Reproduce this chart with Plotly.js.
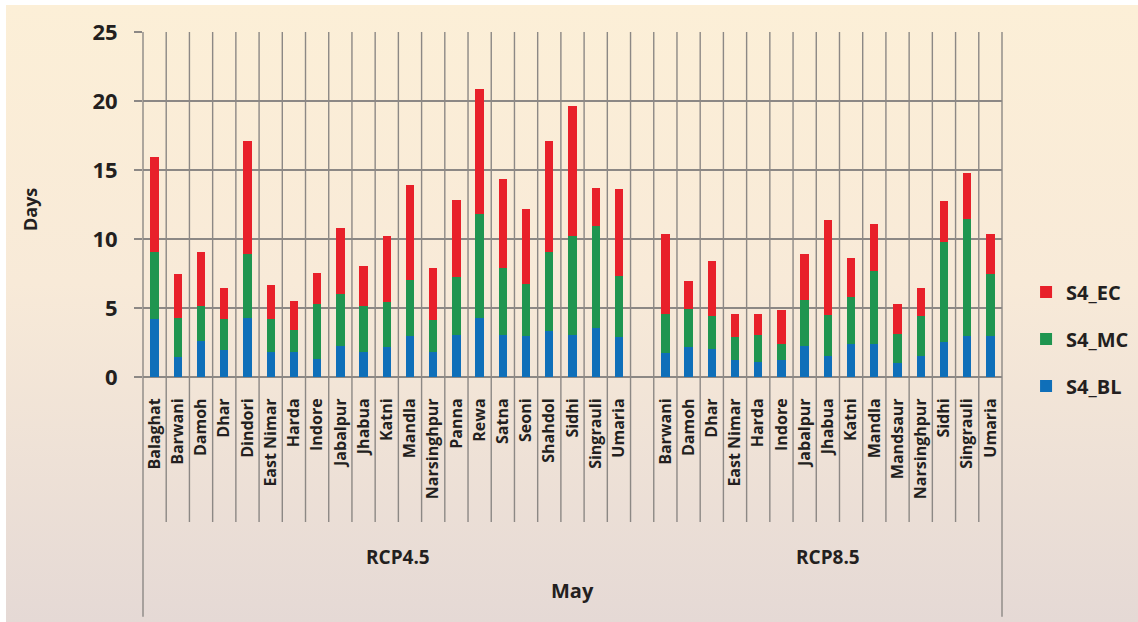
<!DOCTYPE html>
<html>
<head>
<meta charset="utf-8">
<script src="https://cdn.plot.ly/plotly-3.0.1.min.js"></script>
<style>
  html, body { margin: 0; padding: 0; background: #ffffff; }
  #bg { position: absolute; left: 6px; top: 5px; width: 1132px; height: 617px;
        background: linear-gradient(to bottom, #FCEFD7 0%, #F8EAD8 45%, #E5D9D5 100%); }
  #chart { position: absolute; left: 0; top: 0; width: 1138px; height: 622px; }
</style>
</head>
<body>
<div id="bg"></div>
<div id="chart"></div>
<script>
// ---- data ----
const groups = ["RCP4.5", "RCP8.5"];
const names45 = ["Balaghat","Barwani","Damoh","Dhar","Dindori","East Nimar","Harda","Indore","Jabalpur","Jhabua","Katni","Mandla","Narsinghpur","Panna","Rewa","Satna","Seoni","Shahdol","Sidhi","Singrauli","Umaria"];
const bl45 = [4.17,1.42,2.58,1.93,4.31,1.78,1.78,1.28,2.24,1.78,2.14,2.94,1.78,3.08,4.31,3.08,2.94,3.30,3.08,3.54,2.87];
const mc45 = [4.87,2.89,2.60,2.24,4.58,2.39,1.62,4.00,3.76,3.40,3.33,4.12,2.34,4.20,7.52,4.85,3.83,5.78,7.16,7.42,4.48];
const ec45 = [6.91,3.18,3.90,2.31,8.22,2.53,2.14,2.29,4.82,2.89,4.77,6.87,3.81,5.56,9.04,6.43,5.42,8.03,9.40,2.75,6.29];

const names85 = ["Barwani","Damoh","Dhar","East Nimar","Harda","Indore","Jabalpur","Jhabua","Katni","Mandla","Mandsaur","Narsinghpur","Sidhi","Singrauli","Umaria"];
const bl85 = [1.73,2.17,2.02,1.25,1.11,1.25,2.27,1.54,2.41,2.41,1.01,1.54,2.55,2.99,2.99];
const mc85 = [2.85,2.75,2.41,1.64,1.93,1.16,3.32,2.94,3.37,5.25,2.12,2.89,7.23,8.43,4.48];
const ec85 = [5.76,2.02,3.96,1.66,1.51,2.43,3.30,6.87,2.82,3.40,2.15,2.00,2.94,3.33,2.87];

const seriesNames = ["S4_BL","S4_MC","S4_EC"];
const seriesColors = ["#0F6FB9","#1F9550","#E8202A"];
const monthLabel = "May";
const yTitle = "Days";

// ---- positions: one blank slot between the two groups ----
const n45 = names45.length, n85 = names85.length;
const nTot = n45 + 1 + n85;
const x45 = names45.map((_, i) => i);
const x85 = names85.map((_, i) => n45 + 1 + i);
const xAll = x45.concat(x85);
const namesAll = names45.concat(names85);
const vals = [bl45.concat(bl85), mc45.concat(mc85), ec45.concat(ec85)];

const traces = vals.map((v, k) => ({
  type: "bar", x: xAll, y: v, name: seriesNames[k], legendgroup: seriesNames[k],
  legendrank: 100 - k,
  marker: { color: seriesColors[k], line: { width: 0 } }, hoverinfo: "x+y+name"
}));

const gridCol = "#8C8885";
const txtCol = "#231F20";
const fam = "Open Sans, Liberation Sans, sans-serif";

// vertical category dividers (inner ones short, outer edges long)
const shapes = [];
for (let k = 0; k <= nTot; k++) {
  const outer = (k === 0 || k === nTot);
  shapes.push({
    type: "line", layer: "below", xref: "x domain", yref: "paper",
    x0: k / nTot, x1: k / nTot, y0: 1, y1: outer ? -0.695 : -0.42,
    line: { color: gridCol, width: 1.4 }
  });
}

const annotations = [
  { text: yTitle, xref: "paper", yref: "paper", x: -0.1315, y: 0.484, textangle: -90,
    xanchor: "center", yanchor: "middle",
    showarrow: false, font: { family: fam, size: 18, color: txtCol, weight: "bold" } },
  { text: groups[0], xref: "x", yref: "paper", x: (-0.5 + n45 + 0.5) / 2, y: -0.522,
    xanchor: "center", yanchor: "middle",
    showarrow: false, font: { family: fam, size: 19, color: txtCol, weight: "bold" } },
  { text: groups[1], xref: "x", yref: "paper", x: (n45 + 0.5 + nTot - 0.5) / 2, y: -0.522,
    xanchor: "center", yanchor: "middle",
    showarrow: false, font: { family: fam, size: 19, color: txtCol, weight: "bold" } },
  { text: monthLabel, xref: "paper", yref: "paper", x: 0.5, y: -0.62,
    xanchor: "center", yanchor: "middle",
    showarrow: false, font: { family: fam, size: 20, color: txtCol, weight: "bold" } }
];

const layout = {
  width: 1138, height: 622,
  margin: { l: 143, r: 136, t: 32, b: 245, autoexpand: false },
  paper_bgcolor: "rgba(0,0,0,0)", plot_bgcolor: "rgba(0,0,0,0)",
  barmode: "stack", bargap: 0.64,
  showlegend: true,
  legend: {
    x: 1.028, xanchor: "left", y: 0.11, yanchor: "middle",
    traceorder: "grouped", tracegroupgap: 18,
    font: { family: fam, size: 20, color: txtCol, weight: "bold" },
    bgcolor: "rgba(0,0,0,0)"
  },
  xaxis: {
    type: "linear", range: [-0.5, nTot - 0.5], automargin: false,
    tickmode: "array", tickvals: xAll, ticktext: namesAll, tickangle: -90,
    tickfont: { family: fam, size: 16, color: txtCol, weight: "bold" },
    ticks: "outside", ticklen: 0, ticklabelstandoff: 14,
    showgrid: false, zeroline: false, showline: false, fixedrange: true
  },
  yaxis: {
    range: [0, 25], dtick: 5, tick0: 0, automargin: false,
    showgrid: true, gridcolor: gridCol, gridwidth: 1.4,
    zeroline: true, zerolinecolor: gridCol, zerolinewidth: 1.4,
    showline: false,
    ticks: "outside", ticklen: 8, tickcolor: gridCol, tickwidth: 1.4,
    ticklabelstandoff: 12,
    tickfont: { family: fam, size: 22, color: txtCol, weight: "bold" }, fixedrange: true
  },
  shapes: shapes,
  annotations: annotations
};

Plotly.newPlot("chart", traces, layout, { displayModeBar: false, staticPlot: true });
</script>
</body>
</html>
